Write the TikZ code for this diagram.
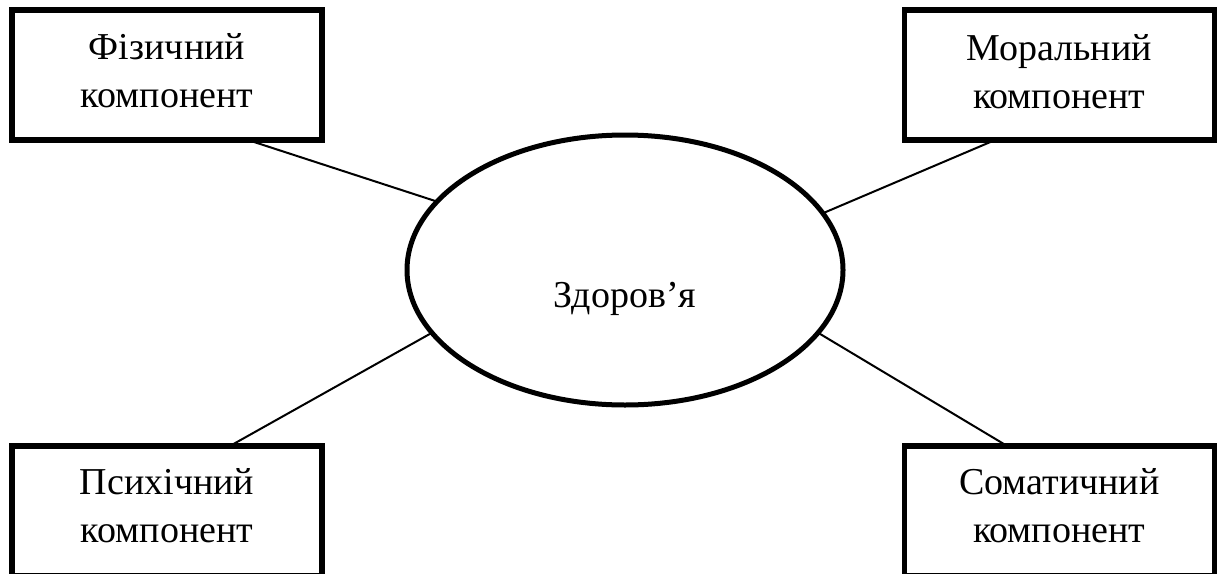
\documentclass[tikz,border=0pt]{standalone}
\usepackage{fontspec}
\setmainfont{Liberation Serif}
\usetikzlibrary{shapes.geometric,calc}
\begin{document}
\begin{tikzpicture}[x=1pt,y=-1pt,
  box/.style={draw,line width=5.5pt,rectangle,minimum width=310pt,minimum height=130pt,inner sep=0pt,outer sep=0pt},
  oval/.style={draw,line width=5pt,ellipse,minimum width=436pt,minimum height=270pt,inner sep=0pt,outer sep=0pt},
  txt/.style={align=center,inner sep=0pt,outer sep=0pt,font=\fontsize{38}{48}\selectfont},
  link/.style={line width=2pt}]
\useasboundingbox (0,0) rectangle (1220,573);
\clip (0,0) rectangle (1220,573);
\node[box] (tl) at (167,75) {};
\node[box] (tr) at (1059.25,75) {};
\node[box] (bl) at (167,511) {};
\node[box] (br) at (1059.25,511) {};
\node[oval] (ell) at (625,270) {};
\node[txt,anchor=base] (tlt) at (167,107) {Фізичний\\компонент};
\node[txt,anchor=base] (trt) at (1059.25,108) {Моральний\\компонент};
\node[txt,anchor=base] (blt) at (167,542) {Психічний\\компонент};
\node[txt,anchor=base] (brt) at (1059.25,542) {Соматичний\\компонент};
\node[txt,anchor=base] (et) at (625,307) {Здоров’я};
\draw[link] ($(tl.south west)!0.761!(tl.south east)$) -- (ell.160.5);
\draw[link] ($(tr.south west)!0.293!(tr.south east)$) -- (ell.16.6);
\draw[link] ($(bl.north west)!0.703!(bl.north east)$) -- (ell.198.9);
\draw[link] ($(br.north west)!0.332!(br.north east)$) -- (ell.342.4);
\end{tikzpicture}
\end{document}
